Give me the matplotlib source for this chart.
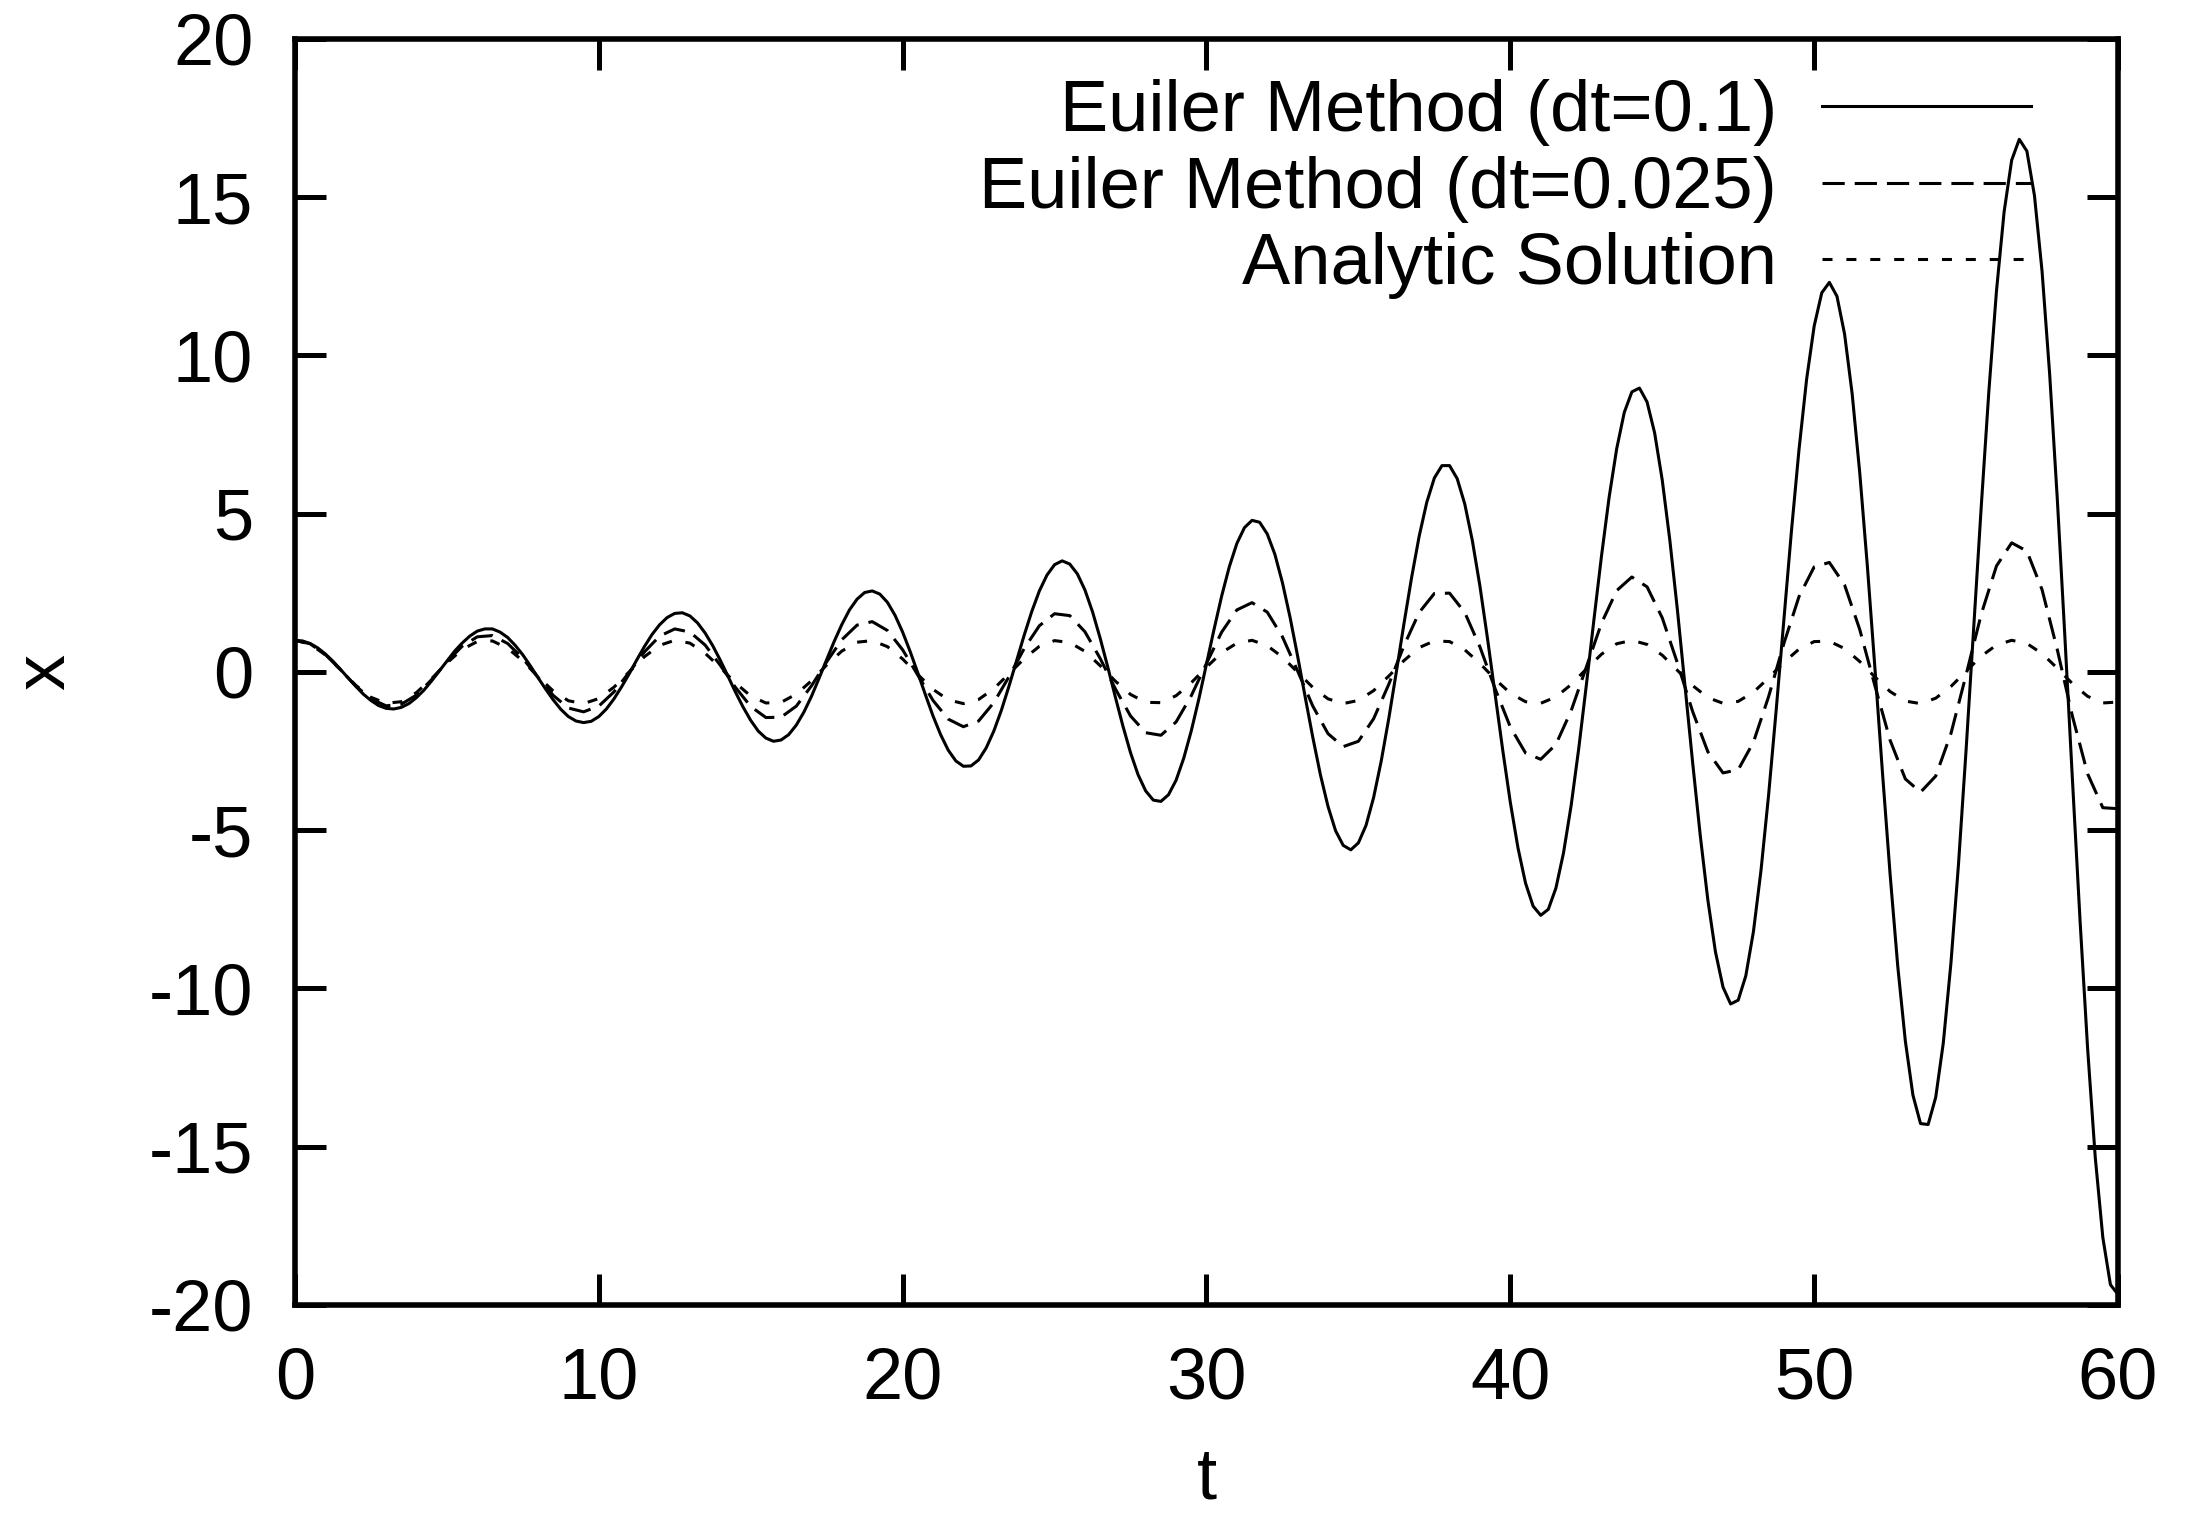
import numpy as np
import matplotlib.pyplot as plt

# sample times along the t axis
t_fine = np.linspace(0, 60, 241)    # every 0.25
t_coarse = np.linspace(0, 60, 121)  # every 0.5

# Euiler Method (dt=0.1), solid line, read every 0.25
x_euler_01 = [
    1.00, 0.98, 0.90, 0.76,
    0.57, 0.34, 0.08, -0.19,
    -0.45, -0.70, -0.90, -1.06,
    -1.15, -1.17, -1.12, -1.00,
    -0.81, -0.57, -0.28, 0.03,
    0.34, 0.65, 0.91, 1.13,
    1.29, 1.36, 1.36, 1.26,
    1.09, 0.84, 0.54, 0.19,
    -0.18, -0.54, -0.88, -1.18,
    -1.41, -1.55, -1.60, -1.56,
    -1.41, -1.17, -0.85, -0.47,
    -0.06, 0.38, 0.80, 1.18,
    1.49, 1.72, 1.85, 1.87,
    1.77, 1.55, 1.23, 0.83,
    0.37, -0.13, -0.64, -1.11,
    -1.53, -1.87, -2.09, -2.19,
    -2.15, -1.98, -1.68, -1.27,
    -0.77, -0.20, 0.39, 0.97,
    1.50, 1.96, 2.30, 2.51,
    2.56, 2.46, 2.20, 1.79,
    1.26, 0.64, -0.03, -0.72,
    -1.39, -1.98, -2.47, -2.81,
    -2.98, -2.97, -2.78, -2.40,
    -1.87, -1.21, -0.45, 0.36,
    1.16, 1.91, 2.56, 3.06,
    3.39, 3.51, 3.41, 3.10,
    2.59, 1.90, 1.07, 0.16,
    -0.79, -1.71, -2.55, -3.25,
    -3.76, -4.05, -4.09, -3.88,
    -3.42, -2.73, -1.86, -0.85,
    0.25, 1.35, 2.40, 3.32,
    4.06, 4.56, 4.79, 4.73,
    4.36, 3.72, 2.82, 1.73,
    0.50, -0.80, -2.07, -3.25,
    -4.25, -5.02, -5.48, -5.62,
    -5.40, -4.85, -3.97, -2.82,
    -1.47, 0.01, 1.53, 2.98,
    4.29, 5.36, 6.13, 6.52,
    6.52, 6.11, 5.31, 4.15,
    2.71, 1.05, -0.71, -2.47,
    -4.12, -5.55, -6.67, -7.40,
    -7.69, -7.50, -6.83, -5.72,
    -4.23, -2.43, -0.43, 1.64,
    3.66, 5.51, 7.05, 8.20,
    8.85, 8.97, 8.53, 7.55,
    6.06, 4.16, 1.95, -0.44,
    -2.86, -5.16, -7.20, -8.84,
    -9.96, -10.49, -10.37, -9.60,
    -8.21, -6.27, -3.89, -1.20,
    1.63, 4.43, 7.02, 9.24,
    10.93, 11.98, 12.31, 11.87,
    10.68, 8.79, 6.29, 3.35,
    0.11, -3.21, -6.41, -9.29,
    -11.66, -13.37, -14.27, -14.30,
    -13.44, -11.72, -9.21, -6.07,
    -2.46, 1.39, 5.25, 8.88,
    12.04, 14.53, 16.17, 16.83,
    16.46, 15.05, 12.66, 9.41,
    5.49, 1.13, -3.41, -7.85,
    -11.91, -15.33, -17.87, -19.36,
    -19.67,
]

# Euiler Method (dt=0.025), dashed line, read every 0.5
x_euler_0025 = [
    1.00, 0.89, 0.55, 0.07, -0.44, -0.85, -1.07, -1.02, -0.73, -0.24,
    0.32, 0.81, 1.11, 1.15, 0.90, 0.43, -0.17, -0.74, -1.14, -1.26,
    -1.08, -0.63, -0.01, 0.63, 1.13, 1.36, 1.26, 0.85, 0.21, -0.49,
    -1.09, -1.44, -1.43, -1.08, -0.44, 0.32, 1.02, 1.48, 1.59, 1.31,
    0.70, -0.10, -0.90, -1.49, -1.73, -1.55, -0.97, -0.15, 0.74, 1.46,
    1.84, 1.78, 1.27, 0.43, -0.53, -1.39, -1.92, -2.00, -1.58, -0.75,
    0.27, 1.26, 1.96, 2.19, 1.89, 1.11, 0.03, -1.08, -1.95, -2.36,
    -2.19, -1.48, -0.39, 0.83, 1.88, 2.48, 2.49, 1.88, 0.79, -0.53,
    -1.74, -2.56, -2.76, -2.29, -1.23, 0.15, 1.54, 2.57, 3.00, 2.69,
    1.71, 0.28, -1.25, -2.52, -3.19, -3.09, -2.22, -0.78, 0.89, 2.38,
    3.32, 3.46, 2.75, 1.34, -0.44, -2.16, -3.38, -3.80, -3.29, -1.95,
    -0.09, 1.83, 3.35, 4.08, 3.82, 2.60, 0.71, -1.40, -3.22, -4.29,
    -4.32,
]

# Analytic Solution, dotted line, read every 0.5
x_analytic = [
    1.00, 0.88, 0.54, 0.07, -0.42, -0.80, -0.99, -0.94, -0.65, -0.21,
    0.28, 0.71, 0.96, 0.98, 0.75, 0.35, -0.15, -0.60, -0.91, -1.00,
    -0.84, -0.48, 0.00, 0.48, 0.84, 1.00, 0.91, 0.59, 0.14, -0.35,
    -0.76, -0.98, -0.96, -0.70, -0.28, 0.22, 0.66, 0.94, 0.99, 0.80,
    0.41, -0.08, -0.55, -0.88, -1.00, -0.87, -0.53, -0.06, 0.42, 0.81,
    0.99, 0.93, 0.65, 0.20, -0.29, -0.71, -0.96, -0.97, -0.75, -0.34,
    0.15, 0.61, 0.91, 1.00, 0.83, 0.47, -0.01, -0.49, -0.85, -1.00,
    -0.90, -0.59, -0.13, 0.36, 0.77, 0.98, 0.96, 0.70, 0.27, -0.23,
    -0.67, -0.94, -0.99, -0.79, -0.40, 0.09, 0.56, 0.89, 1.00, 0.87,
    0.53, 0.05, -0.43, -0.81, -0.99, -0.93, -0.64, -0.19, 0.30, 0.72,
    0.96, 0.97, 0.74, 0.33, -0.16, -0.62, -0.92, -1.00, -0.83, -0.46,
    0.02, 0.50, 0.85, 1.00, 0.90, 0.58, 0.12, -0.37, -0.77, -0.98,
    -0.95,
]

labels = ["Euiler Method (dt=0.1)", "Euiler Method (dt=0.025)", "Analytic Solution"]
xticks = [0, 10, 20, 30, 40, 50, 60]
yticks = [-20, -15, -10, -5, 0, 5, 10, 15, 20]

plt.rcParams['font.family'] = ['Liberation Sans', 'DejaVu Sans']
plt.rcParams['lines.scale_dashes'] = False
plt.rcParams['axes.unicode_minus'] = False

fig = plt.figure(figsize=(2201 / 200, 1517 / 200), dpi=200)
ax = fig.add_axes([0.134, 0.1398, 0.8283, 0.8345])

ax.plot(t_fine, x_euler_01, color='black', lw=1.1, label=labels[0])
ax.plot(t_coarse, x_euler_0025, color='black', lw=1.1, dashes=(8, 3.6), label=labels[1])
ax.plot(t_coarse, x_analytic, color='black', lw=1.1, dashes=(3.6, 5.0), label=labels[2])

ax.set_xlim(0, 60)
ax.set_ylim(-20, 20)
ax.set_xticks(xticks)
ax.set_yticks(yticks)
ax.tick_params(direction='in', length=11, width=1.8, top=True, right=True,
               labelsize=26, pad=15)
for sp in ax.spines.values():
    sp.set_linewidth(2)

ax.set_xlabel('t', fontsize=26, labelpad=12)
ax.set_ylabel('x', fontsize=26, labelpad=25)

ax.legend(loc='upper right', bbox_to_anchor=(0.952, 0.968), frameon=False,
          markerfirst=False, fontsize=26, handlelength=2.89, handletextpad=0.62,
          labelspacing=0.13, borderpad=0, borderaxespad=0)

plt.savefig('out.png', dpi=200)
